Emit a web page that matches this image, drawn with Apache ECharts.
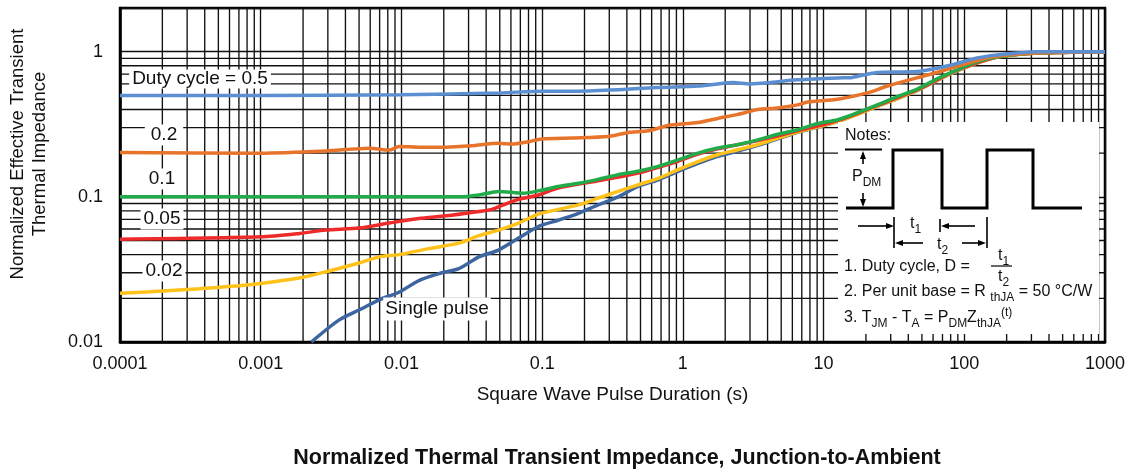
<!DOCTYPE html>
<html><head><meta charset="utf-8">
<script src="https://cdn.jsdelivr.net/npm/echarts@6/dist/echarts.min.js"></script>
<style>html,body{margin:0;padding:0;background:#fff}#c{width:1129px;height:469px}</style>
</head><body><div id="c"></div>
<script>
// ---- data ----
const xTickLabels = ['0.0001','0.001','0.01','0.1','1','10','100','1000'];
const yTickLabels = ['0.01','0.1','1'];
const seriesNames = ['Single pulse','0.02','0.05','0.1','0.2','Duty cycle = 0.5'];
const d05 = [[1e-4,0.50],[1e-3,0.50],[0.01,0.505],[0.05,0.52],[0.1,0.535],[0.18,0.535],[0.35,0.547],[0.67,0.567],[1.28,0.58],[1.77,0.60],[2.27,0.614],[3.0,0.60],[4.0,0.61],[6.5,0.64],[12.6,0.66],[16,0.665],[20.5,0.70],[24,0.72],[46,0.73],[64,0.77],[89,0.83],[123,0.905],[171,0.95],[236,0.98],[330,1.0],[1000,1.0]];
const d02 = [[1e-4,0.202],[1e-3,0.20],[2.9e-3,0.207],[5.9e-3,0.216],[8.2e-3,0.21],[0.0096,0.222],[0.0133,0.22],[0.0207,0.22],[0.0316,0.225],[0.049,0.234],[0.061,0.231],[0.08,0.24],[0.099,0.25],[0.16,0.254],[0.295,0.26],[0.41,0.278],[0.567,0.285],[0.786,0.31],[1.28,0.325],[1.77,0.347],[2.46,0.37],[3.41,0.40],[4.72,0.41],[6.54,0.43],[7.7,0.45],[12.6,0.47],[20.5,0.52],[28.4,0.58],[46,0.66],[64,0.72],[123,0.87],[171,0.93],[330,0.98],[1000,1.0]];
const d01 = [[1e-4,0.10],[1e-3,0.10],[0.01,0.10],[0.0256,0.10],[0.0355,0.103],[0.049,0.109],[0.0738,0.106],[0.0944,0.11],[0.13,0.118],[0.181,0.124],[0.25,0.132],[0.347,0.142],[0.48,0.15],[0.667,0.162],[0.925,0.18],[1.28,0.20],[1.77,0.217],[2.46,0.229],[3.41,0.247],[4.72,0.27],[6.54,0.29],[9.08,0.32],[12.6,0.34],[17.4,0.38],[24.1,0.43],[33.4,0.49],[46,0.55],[64,0.65],[89,0.75],[123,0.85],[171,0.92],[330,0.98],[1000,1.0]];
const d005 = [[1e-4,0.051],[1e-3,0.053],[1.9e-3,0.056],[2.9e-3,0.059],[5e-3,0.061],[8.2e-3,0.066],[0.0133,0.071],[0.0207,0.074],[0.0316,0.078],[0.044,0.082],[0.053,0.088],[0.068,0.096],[0.094,0.103],[0.13,0.115],[0.25,0.129],[0.48,0.146],[0.925,0.176],[1.28,0.197],[1.77,0.214],[3.41,0.244],[6.54,0.285],[12.6,0.335],[24,0.425],[46,0.545],[89,0.745],[171,0.92],[330,0.98],[1000,1.0]];
const d002 = [[1e-4,0.0217],[1.63e-4,0.0222],[3.69e-4,0.0233],[8.33e-4,0.0248],[1.88e-3,0.0276],[2.92e-3,0.0305],[5e-3,0.035],[6.94e-3,0.0386],[0.0096,0.040],[0.0157,0.044],[0.0256,0.048],[0.0355,0.054],[0.049,0.059],[0.068,0.066],[0.094,0.076],[0.13,0.082],[0.181,0.088],[0.25,0.098],[0.347,0.109],[0.48,0.121],[0.667,0.134],[0.925,0.154],[1.28,0.175],[1.77,0.195],[2.46,0.211],[3.41,0.229],[4.72,0.254],[6.54,0.28],[12.6,0.33],[24,0.42],[46,0.54],[89,0.74],[171,0.92],[330,0.98],[1000,1.0]];
const dsp = [[2.29e-3,0.01],[3.61e-3,0.0142],[5e-3,0.0166],[6.94e-3,0.0195],[0.0096,0.022],[0.0133,0.0265],[0.0185,0.0296],[0.0256,0.032],[0.0355,0.0386],[0.049,0.043],[0.068,0.052],[0.094,0.0625],[0.13,0.069],[0.181,0.077],[0.25,0.088],[0.347,0.1],[0.48,0.118],[0.667,0.131],[0.925,0.15],[1.28,0.17],[1.77,0.19],[2.46,0.207],[3.41,0.226],[6.54,0.278],[12.6,0.33],[24,0.42],[46,0.54],[89,0.74],[171,0.92],[330,0.98],[1000,1.0]];
const seriesData = [dsp, d002, d005, d01, d02, d05];
const seriesColors = ['#3D65A0','#FFC21A','#EE2B2B','#22AB4B','#E8742B','#5B8FD1'];
const xRange = [1e-4, 1000];
const yRange = [0.01, 2];

// ---- helpers ----
const FONT = '"Liberation Sans", Arial, Helvetica, sans-serif';
function fmt(labels){
  return function(v){
    for (const s of labels){ if (Math.abs(Math.log10(v) - Math.log10(parseFloat(s))) < 1e-6) return s; }
    return '';
  };
}
// minor grid values (2..9 per decade), orientation flag: 0 vertical, 1 horizontal
const minorGrid = [];
for (let k=-4;k<3;k++) for (let m=2;m<=9;m++) minorGrid.push([m*Math.pow(10,k), yRange[0], 0]);
for (let k=-2;k<1;k++) for (let m=2;m<=9;m++) { const v=m*Math.pow(10,k); if (v<yRange[1]) minorGrid.push([xRange[0], v, 1]); }

const series = [{
  type:'custom', z:1, silent:true, data:minorGrid, encode:{x:0, y:1}, clip:true,
  renderItem:function(params, api){
    let p1, p2;
    if (api.value(2) === 0) { p1 = api.coord([api.value(0), yRange[0]]); p2 = api.coord([api.value(0), yRange[1]]); }
    else { p1 = api.coord([xRange[0], api.value(1)]); p2 = api.coord([xRange[1], api.value(1)]); }
    return { type:'line', shape:{x1:p1[0], y1:p1[1], x2:p2[0], y2:p2[1]}, style:{stroke:'#111', lineWidth:1.35} };
  }
}];
seriesData.forEach((d,i)=>{
  series.push({ name: seriesNames[i], type:'line', data:d, showSymbol:false, smooth:0.25,
    z: 3+i, clip:true, lineStyle:{color:seriesColors[i], width:3.5}, itemStyle:{color:seriesColors[i]} });
});

function lbl(text, x, y, pad){
  return { type:'text', z:50, x:x, y:y, style:{ text:text, font:'19px '+FONT, fill:'#111',
    textAlign:'center', textVerticalAlign:'middle', backgroundColor:'#fff', padding:pad } };
}
function line(pts, w){ return { type:'polyline', z:60, shape:{points:pts}, style:{stroke:'#000', lineWidth:w||1.6, fill:null} }; }
function tri(pts){ return { type:'polygon', z:60, shape:{points:pts}, style:{fill:'#000'} }; }
const rich = { sub:{fontSize:12, lineHeight:12, verticalAlign:'bottom', fontFamily:FONT, fill:'#111'},
               sup:{fontSize:12, lineHeight:12, verticalAlign:'top', fontFamily:FONT, fill:'#111'},
               m:{fontSize:16, lineHeight:23, fontFamily:FONT, fill:'#111'} };
function rtext(text, x, y, align){
  return { type:'text', z:60, x:x, y:y, style:{ text:text, rich:rich, font:'16px '+FONT, fill:'#111',
    textAlign:align||'left', textVerticalAlign:'middle' } };
}

const graphic = [
  { type:'text', z:50, x:29, y:154, rotation:Math.PI/2,
    style:{ text:'Normalized Effective Transient\nThermal Impedance', font:'18.5px '+FONT, fill:'#111', lineHeight:22,
      textAlign:'center', textVerticalAlign:'middle' } },
  lbl('Duty cycle = 0.5', 200, 79, [0,3,0,3]),
  lbl('0.2', 164, 135, [1,6,1,6]),
  lbl('0.1', 162, 179, [1,6,1,6]),
  lbl('0.05', 162, 219, [1,3,1,3]),
  lbl('0.02', 164, 271, [1,3,1,3]),
  lbl('Single pulse', 437, 309, [2,2,2,2]),
  { type:'rect', z:55, shape:{x:838, y:122, width:261, height:212}, style:{fill:'#fff'} },
  rtext('{m|Notes:}', 845, 136),
  line([[846,208],[893,208],[893,150],[942,150],[942,208],[987,208],[987,150],[1033,150],[1033,208],[1082,208]], 3),
  line([[845,149.5],[882,149.5]], 2.2),
  line([[863,156],[863,164]], 1.6), tri([[863,151],[860,159],[866,159]]),
  line([[863,193],[863,201]], 1.6), tri([[863,207],[860,199],[866,199]]),
  rtext('{m|P}{sub|DM}', 852, 177),
  line([[858,226],[887,226]], 1.6), tri([[894,226],[886,223],[886,229]]),
  line([[894,217],[894,248]], 1.6),
  line([[940,219],[940,232]], 1.6),
  line([[947,226],[975,226]], 1.6), tri([[941,226],[949,223],[949,229]]),
  line([[901,243],[923,243]], 1.6), tri([[895,243],[903,240],[903,246]]),
  line([[962,243],[980,243]], 1.6), tri([[986,243],[978,240],[978,246]]),
  line([[987,217],[987,248]], 1.6),
  rtext('{m|t}{sub|1}', 910, 224),
  rtext('{m|t}{sub|2}', 937, 245),
  rtext('{m|1. Duty cycle, D =}', 844, 267),
  rtext('{m|t}{sub|1}', 998, 256),
  line([[991,266],[1012,266]], 1.2),
  rtext('{m|t}{sub|2}', 998, 277),
  rtext('{m|2. Per unit base = R }{sub|thJA}{m| = 50 °C/W}', 844, 292),
  rtext('{m|3. T}{sub|JM}{m| - T}{sub|A}{m| = P}{sub|DM}{m|Z}{sub|thJA}{sup|(t)}', 844, 318)
];

const chart = echarts.init(document.getElementById('c'), null, {renderer:'canvas'});
chart.setOption({
  animation:false,
  backgroundColor:'#fff',
  textStyle:{fontFamily:FONT},
  title:{ text:'Normalized Thermal Transient Impedance, Junction-to-Ambient', left:612, top:442, textAlign:'center',
    textStyle:{fontSize:21.5, fontWeight:'bold', color:'#111', fontFamily:FONT} },
  grid:{ left:120, right:24, top:8, bottom:127, show:true, borderColor:'#000', borderWidth:2.5, backgroundColor:'#fff' },
  xAxis:{ type:'log', logBase:10, min:xRange[0], max:xRange[1],
    name:'Square Wave Pulse Duration (s)', nameLocation:'middle', nameGap:43,
    nameTextStyle:{fontSize:19, color:'#111', fontFamily:FONT},
    axisLine:{show:true, lineStyle:{color:'#000', width:2.5}}, axisTick:{show:false},
    axisLabel:{formatter:fmt(xTickLabels), fontSize:18, color:'#111', margin:13, fontFamily:FONT, showMinLabel:true, showMaxLabel:true},
    splitLine:{show:true, lineStyle:{color:'#111', width:1.35}} },
  yAxis:{ type:'log', logBase:10, min:yRange[0], max:yRange[1],
    axisLine:{show:true, lineStyle:{color:'#000', width:2.5}}, axisTick:{show:false},
    axisLabel:{formatter:fmt(yTickLabels), fontSize:18, color:'#111', margin:17, fontFamily:FONT},
    splitLine:{show:true, lineStyle:{color:'#111', width:1.35}} },
  series: series,
  graphic: graphic
});
</script></body></html>
